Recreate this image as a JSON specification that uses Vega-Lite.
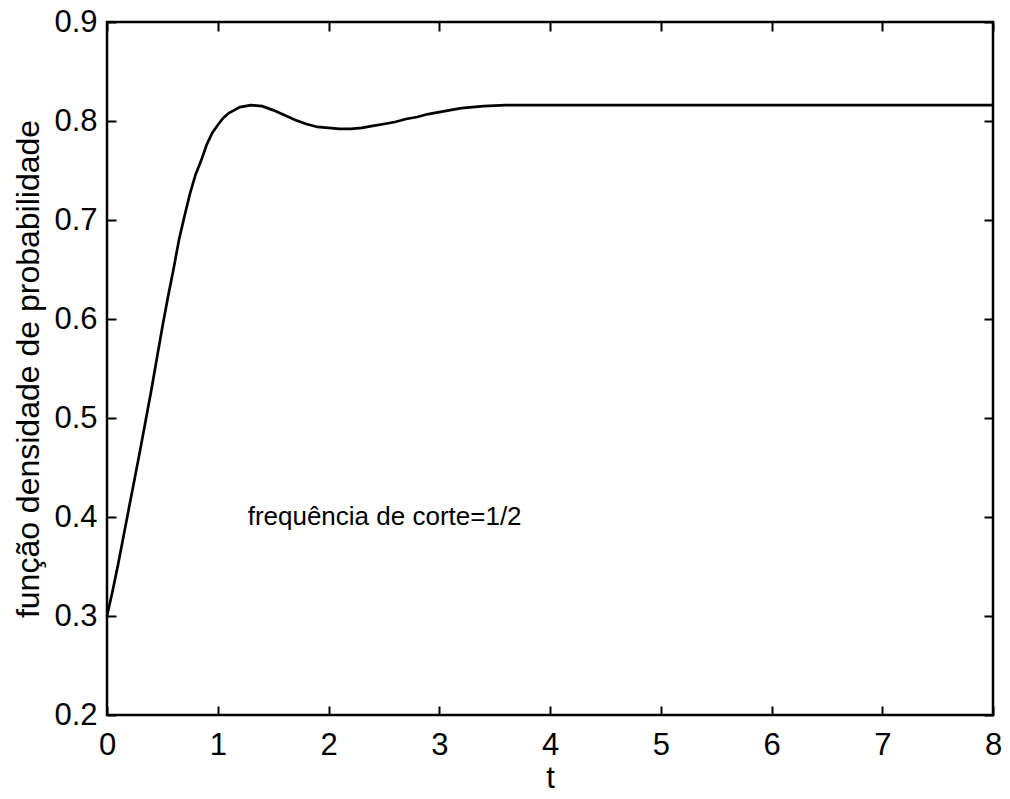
{
  "$schema": "https://vega.github.io/schema/vega-lite/v6.json",
  "width": 886,
  "height": 693,
  "autosize": {"type": "none"},
  "padding": {"left": 107, "top": 22, "right": 17, "bottom": 84},
  "background": "white",
  "config": {
    "view": {"stroke": "black", "strokeWidth": 2.5},
    "axis": {
      "grid": false,
      "domain": false,
      "labelFlush": false,
      "labelOverlap": false,
      "tickColor": "black",
      "tickWidth": 2,
      "tickSize": -9,
      "labelFont": "Liberation Sans",
      "labelFontSize": 31,
      "labelColor": "black",
      "titleFont": "Liberation Sans",
      "titleFontSize": 31,
      "titleColor": "black",
      "titleFontWeight": "normal"
    }
  },
  "layer": [
    {
      "data": {
        "values": [
          {"t": 0, "v": 0.300}, {"t": 0.05, "v": 0.325}, {"t": 0.1, "v": 0.352}, {"t": 0.15, "v": 0.381},
          {"t": 0.2, "v": 0.410}, {"t": 0.25, "v": 0.439}, {"t": 0.3, "v": 0.468}, {"t": 0.35, "v": 0.498},
          {"t": 0.4, "v": 0.528}, {"t": 0.45, "v": 0.560}, {"t": 0.5, "v": 0.592}, {"t": 0.55, "v": 0.622},
          {"t": 0.6, "v": 0.650}, {"t": 0.65, "v": 0.680}, {"t": 0.7, "v": 0.704}, {"t": 0.75, "v": 0.727},
          {"t": 0.8, "v": 0.746}, {"t": 0.85, "v": 0.760}, {"t": 0.9, "v": 0.776}, {"t": 0.95, "v": 0.788},
          {"t": 1.0, "v": 0.796}, {"t": 1.05, "v": 0.803}, {"t": 1.1, "v": 0.808}, {"t": 1.15, "v": 0.811},
          {"t": 1.2, "v": 0.814}, {"t": 1.3, "v": 0.816}, {"t": 1.4, "v": 0.815}, {"t": 1.5, "v": 0.811},
          {"t": 1.6, "v": 0.806}, {"t": 1.7, "v": 0.801}, {"t": 1.8, "v": 0.797}, {"t": 1.9, "v": 0.794},
          {"t": 2.0, "v": 0.793}, {"t": 2.1, "v": 0.792}, {"t": 2.2, "v": 0.792}, {"t": 2.3, "v": 0.793},
          {"t": 2.4, "v": 0.795}, {"t": 2.5, "v": 0.797}, {"t": 2.6, "v": 0.799}, {"t": 2.7, "v": 0.802},
          {"t": 2.8, "v": 0.804}, {"t": 2.9, "v": 0.807}, {"t": 3.0, "v": 0.809}, {"t": 3.1, "v": 0.811},
          {"t": 3.2, "v": 0.813}, {"t": 3.3, "v": 0.814}, {"t": 3.4, "v": 0.815}, {"t": 3.6, "v": 0.816},
          {"t": 4.0, "v": 0.816}, {"t": 5.0, "v": 0.816}, {"t": 6.0, "v": 0.816}, {"t": 7.0, "v": 0.816},
          {"t": 8.0, "v": 0.816}
        ]
      },
      "mark": {"type": "line", "color": "black", "strokeWidth": 2.7},
      "encoding": {
        "x": {
          "field": "t", "type": "quantitative",
          "scale": {"domain": [0, 8], "nice": false},
          "axis": {"title": "t", "values": [0, 1, 2, 3, 4, 5, 6, 7, 8], "format": "d", "labelPadding": 24, "titlePadding": 3}
        },
        "y": {
          "field": "v", "type": "quantitative",
          "scale": {"domain": [0.2, 0.9], "nice": false, "zero": false},
          "axis": {"title": "função densidade de probabilidade", "titleFontSize": 32, "values": [0.2, 0.3, 0.4, 0.5, 0.6, 0.7, 0.8, 0.9], "format": ".1f", "labelPadding": 19, "titlePadding": 8}
        }
      }
    },
    {
      "data": {"values": [{"t": 1.27, "v": 0.4, "label": "frequência de corte=1/2"}]},
      "mark": {"type": "text", "align": "left", "baseline": "middle", "fontSize": 26, "font": "Liberation Sans", "color": "black"},
      "encoding": {
        "x": {"field": "t", "type": "quantitative", "axis": {"orient": "top", "labels": false, "title": null, "values": [0, 1, 2, 3, 4, 5, 6, 7, 8]}},
        "y": {"field": "v", "type": "quantitative", "axis": {"orient": "right", "labels": false, "title": null, "values": [0.2, 0.3, 0.4, 0.5, 0.6, 0.7, 0.8, 0.9]}},
        "text": {"field": "label"}
      }
    }
  ],
  "resolve": {"axis": {"x": "independent", "y": "independent"}}
}
